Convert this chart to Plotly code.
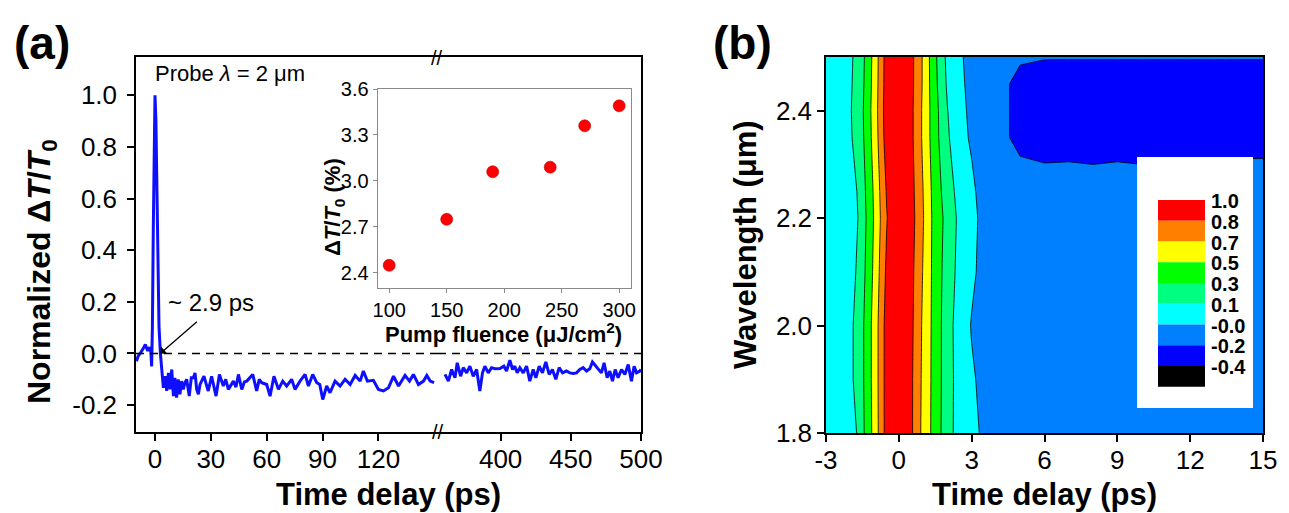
import plotly.graph_objects as go

W, H = 1289, 513
FONT = "Liberation Sans"

# ---------------- data: panel (a) main trace ----------------
t_early = [-10, -9, -8, -7, -6.1, -5.2, -3.9, -2.9, -2.2, -1.8, -1.4, -0.9, -0.4, 0, 0.5,
           1.25, 2.15, 2.9, 3.6, 4.5, 5.4, 6.3, 7.2, 8.1, 9.0, 9.9, 10.7, 11.6, 12.5,
           13.4, 14.3, 15.2, 16.1, 17.0, 18.4, 19.5, 20.6, 21.5, 22.4, 23.3, 24.2, 25.1,
           26.3, 27.8, 28.6, 30.4, 31.5, 32.8, 34.6, 36.7, 38.0, 39.4, 42.1, 43.5, 44.8,
           46.6, 48.0, 49.3, 52.5, 54.6, 56.0, 57.3, 60.0, 61.8, 63.9, 66.3, 68.6, 70.7,
           73.4, 75.2, 77.9, 80.6, 82.4, 84.7, 86.9, 88.5, 90.1, 92.2, 94.0, 96.7, 99.4,
           102.1, 104.8, 107.5, 110.2, 111.9, 114.1, 117.3, 120.0, 122.7, 125.4, 128.1,
           130.8, 134.3, 136.7, 138.8, 141.5, 144.2, 146.0, 147.8, 149.9]
v_early = [-0.03, -0.01, 0.0, 0.01, 0.022, 0.035, 0.01, 0.025, 0.005, -0.05, 0.10, 0.49,
           0.95, 1.0, 0.90, 0.49, 0.105, 0.0, -0.062, -0.133, -0.088, -0.145, -0.075,
           -0.139, -0.062, -0.165, -0.094, -0.171, -0.100, -0.158, -0.107, -0.139, -0.113,
           -0.100, -0.165, -0.094, -0.094, -0.075, -0.139, -0.158, -0.120, -0.107, -0.088,
           -0.126, -0.145, -0.088, -0.120, -0.165, -0.081, -0.126, -0.100, -0.139, -0.107,
           -0.130, -0.081, -0.139, -0.110, -0.107, -0.081, -0.145, -0.100, -0.113, -0.120,
           -0.165, -0.088, -0.139, -0.107, -0.126, -0.100, -0.139, -0.107, -0.081, -0.126,
           -0.081, -0.113, -0.120, -0.178, -0.126, -0.152, -0.107, -0.126, -0.100, -0.120,
           -0.085, -0.107, -0.068, -0.107, -0.104, -0.139, -0.145, -0.133, -0.088, -0.126,
           -0.085, -0.107, -0.081, -0.120, -0.107, -0.085, -0.107, -0.113]

t_late = [360.4, 362.8, 365.1, 367.5, 369.1, 371.5, 373.4, 375.8, 378.1, 380.5, 382.9,
          385.2, 387.1, 388.8, 391.2, 393.5, 395.9, 399.5, 402.3, 404.2, 406.6, 408.5,
          410.1, 411.8, 413.7, 416.1, 418.5, 420.8, 423.2, 425.1, 427.5, 429.8, 432.2,
          434.6, 436.9, 439.3, 441.7, 444.1, 446.9, 449.3, 451.7, 454.1, 456.4, 458.8,
          461.2, 463.5, 465.4, 467.8, 470.2, 471.8, 473.7, 475.9, 477.8, 479.7, 481.6,
          483.7, 486.1, 488.5, 490.9, 493.2, 495.1, 496.8, 499.2, 500.0]
v_late = [-0.081, -0.107, -0.062, -0.094, -0.036, -0.088, -0.055, -0.075, -0.049, -0.088,
          -0.062, -0.145, -0.075, -0.049, -0.075, -0.055, -0.059, -0.058, -0.049, -0.068,
          -0.026, -0.062, -0.049, -0.075, -0.055, -0.075, -0.049, -0.107, -0.062, -0.094,
          -0.049, -0.075, -0.033, -0.081, -0.062, -0.100, -0.055, -0.075, -0.068, -0.075,
          -0.077, -0.075, -0.062, -0.055, -0.068, -0.059, -0.033, -0.049, -0.062, -0.075,
          -0.036, -0.094, -0.068, -0.107, -0.062, -0.094, -0.062, -0.081, -0.043, -0.107,
          -0.049, -0.075, -0.068, -0.062]

# ---------------- data: inset ----------------
fluence = [100, 150, 190, 240, 270, 300]
dtt_pct = [2.45, 2.75, 3.06, 3.09, 3.36, 3.49]

# ---------------- data: panel (b) contour ----------------
delay_b = [-3, -2.5, -2, -1.5, -1, -0.5, 0, 0.5, 1, 1.5, 2, 2.5, 3, 3.5, 4, 4.5, 5,
           6, 7, 8, 9, 10, 11, 12, 13, 14, 15]
wavelength_b = [1.8, 1.9, 2.0, 2.1, 2.2, 2.25, 2.35, 2.4, 2.45, 2.5]
row_180 = [0.01, 0.00, -0.02, 0.26, 0.54, 0.90, 1.00, 0.86, 0.60, 0.40, 0.19, 0.055, 0.00,
           -0.08, -0.11, -0.12, -0.12, -0.12, -0.12, -0.12, -0.12, -0.12, -0.12, -0.12,
           -0.12, -0.12, -0.12]
row_190 = [0.01, 0.02, 0.08, 0.27, 0.55, 0.90, 1.00, 0.86, 0.61, 0.40, 0.20, 0.05, -0.03,
           -0.09, -0.11, -0.12, -0.12, -0.12, -0.12, -0.12, -0.12, -0.12, -0.12, -0.12,
           -0.12, -0.12, -0.12]
row_200 = [0.01, 0.02, 0.08, 0.27, 0.55, 0.90, 1.00, 0.87, 0.62, 0.40, 0.20, 0.04, -0.06,
           -0.10, -0.11, -0.12, -0.12, -0.12, -0.12, -0.12, -0.12, -0.12, -0.12, -0.12,
           -0.12, -0.12, -0.12]
row_210 = [0.01, 0.01, 0.03, 0.24, 0.52, 0.86, 1.00, 0.88, 0.64, 0.40, 0.22, 0.07, -0.02,
           -0.10, -0.12, -0.12, -0.12, -0.13, -0.13, -0.13, -0.13, -0.13, -0.13, -0.13,
           -0.13, -0.13, -0.13]
row_220 = [0.00, -0.01, -0.03, 0.215, 0.50, 0.816, 1.00, 0.90, 0.66, 0.40, 0.244, 0.083,
           0.00, -0.10, -0.12, -0.13, -0.13, -0.13, -0.13, -0.13, -0.13, -0.13, -0.13,
           -0.13, -0.13, -0.13, -0.13]
row_225 = [0.00, 0.00, 0.00, 0.23, 0.51, 0.84, 1.00, 0.89, 0.65, 0.39, 0.21, 0.06, -0.02,
           -0.11, -0.13, -0.14, -0.16, -0.175, -0.17, -0.18, -0.17, -0.18, -0.185, -0.17,
           -0.16, -0.155, -0.155]
row_235 = [0.01, 0.02, 0.10, 0.27, 0.55, 0.91, 1.00, 0.87, 0.62, 0.36, 0.15, 0.00, -0.07,
           -0.12, -0.15, -0.22, -0.26, -0.27, -0.27, -0.27, -0.27, -0.27, -0.27, -0.27,
           -0.27, -0.27, -0.27]
row_240 = [0.01, 0.03, 0.11, 0.28, 0.56, 0.92, 1.00, 0.87, 0.62, 0.36, 0.13, -0.01, -0.08,
           -0.12, -0.15, -0.22, -0.26, -0.27, -0.27, -0.27, -0.27, -0.27, -0.27, -0.27,
           -0.27, -0.27, -0.27]
row_245 = [0.01, 0.02, 0.10, 0.265, 0.55, 0.91, 1.00, 0.88, 0.63, 0.34, 0.10, -0.02, -0.09,
           -0.12, -0.15, -0.22, -0.26, -0.27, -0.27, -0.27, -0.27, -0.27, -0.27, -0.27,
           -0.27, -0.27, -0.27]
row_250 = [0.01, 0.02, 0.09, 0.254, 0.54, 0.907, 1.00, 0.88, 0.63, 0.33, 0.08, -0.028,
           -0.10, -0.12, -0.14, -0.18, -0.21, -0.22, -0.22, -0.22, -0.22, -0.22, -0.22,
           -0.22, -0.22, -0.22, -0.22]
signal_b = [row_180, row_190, row_200, row_210, row_220, row_225, row_235, row_240,
            row_245, row_250]

level_start, level_end, level_step = -0.4, 1.0, 0.175
# fill colours from lowest band (< -0.4) to highest band (> 1.0)
band_colors = ["#000000", "#0000FF", "#0080FF", "#00FFFF", "#00FF80", "#00FF00",
               "#FFFF00", "#FF8000", "#FF0000", "#FF0000"]
legend_labels = ["1.0", "0.8", "0.7", "0.5", "0.3", "0.1", "-0.0", "-0.2", "-0.4"]

# ---------------- helpers ----------------
def fx(p):
    return p / W


def fy(p):
    return 1 - p / H


n = len(band_colors)
colorscale = []
for i, c in enumerate(band_colors):
    colorscale.append([i / n, c])
    colorscale.append([(i + 1) / n, c])

BLUE = "rgb(15,15,255)"

fig = go.Figure()
fig.add_trace(go.Scatter(x=t_early, y=v_early, xaxis="x", yaxis="y", mode="lines",
                         line=dict(color=BLUE, width=3), showlegend=False,
                         hoverinfo="skip"))
fig.add_trace(go.Scatter(x=t_late, y=v_late, xaxis="x3", yaxis="y3", mode="lines",
                         line=dict(color=BLUE, width=3), showlegend=False,
                         hoverinfo="skip"))
fig.add_trace(go.Scatter(x=fluence, y=dtt_pct, xaxis="x4", yaxis="y4", mode="markers",
                         marker=dict(color="#ff0000", size=12,
                                     line=dict(color="#c00000", width=0.6)),
                         showlegend=False, hoverinfo="skip"))
fig.add_trace(go.Contour(x=delay_b, y=wavelength_b, z=signal_b, xaxis="x2", yaxis="y2",
                         contours=dict(start=level_start, end=level_end, size=level_step,
                                       coloring="fill"),
                         line=dict(color="black", width=0.8, smoothing=0),
                         colorscale=colorscale, showscale=False, hoverinfo="skip"))

tickfont = dict(family=FONT, size=26, color="black")
common = dict(showline=True, linecolor="black", linewidth=1.5, ticks="outside",
              ticklen=7, tickwidth=1.5, tickcolor="black", showgrid=False,
              zeroline=False, tickfont=tickfont)

ya_dom = [fy(432), fy(57)]
yb_dom = [fy(433), fy(57)]

layout = dict(
    width=W, height=H, margin=dict(l=0, r=0, t=0, b=0, pad=0, autoexpand=False),
    paper_bgcolor="white", plot_bgcolor="white", showlegend=False,
    xaxis=dict(domain=[fx(136), fx(438)], range=[-10.2, 152], anchor="y", mirror=True,
               tickvals=[0, 30, 60, 90, 120], ticklabelstandoff=-4, **common),
    yaxis=dict(domain=ya_dom, range=[-0.304, 1.148], anchor="x",
               tickvals=[-0.2, 0, 0.2, 0.4, 0.6, 0.8, 1.0],
               ticktext=["-0.2", "0.0", "0.2", "0.4", "0.6", "0.8", "1.0"],
               ticklabelstandoff=5, **common),
    xaxis3=dict(domain=[fx(438), fx(641)], range=[355.4, 500], anchor="y3", mirror=True,
                tickvals=[400, 450, 500], ticklabelstandoff=-4, **common),
    yaxis3=dict(domain=ya_dom, range=[-0.304, 1.148], anchor="x3", side="right",
                showline=True, linecolor="black", linewidth=1.5, ticks="",
                showticklabels=False, showgrid=False, zeroline=False),
    xaxis4=dict(domain=[fx(377.7), fx(630.7)], range=[90, 310], anchor="y4",
                tickvals=[100, 150, 200, 250, 300], showline=True, mirror=True,
                linecolor="#8a8a8a", linewidth=1.2, ticks="outside", ticklen=4,
                tickcolor="#8a8a8a", showgrid=False, zeroline=False,
                tickfont=dict(family=FONT, size=20, color="black")),
    yaxis4=dict(domain=[fy(288.3), fy(89)], range=[2.3, 3.6], anchor="x4",
                tickvals=[2.4, 2.7, 3.0, 3.3, 3.6],
                ticktext=["2.4", "2.7", "3.0", "3.3", "3.6"], showline=True, mirror=True,
                linecolor="#8a8a8a", linewidth=1.2, ticks="outside", ticklen=4,
                tickcolor="#8a8a8a", showgrid=False, zeroline=False,
                tickfont=dict(family=FONT, size=20, color="black")),
    xaxis2=dict(domain=[fx(826), fx(1263)], range=[-3, 15], anchor="y2", mirror=True,
                tickvals=[-3, 0, 3, 6, 9, 12, 15],
                ticktext=["-3", "0", "3", "6", "9", "12", "15"], ticklabelstandoff=-4,
                **common),
    yaxis2=dict(domain=yb_dom, range=[1.8, 2.5], anchor="x2", mirror=True,
                tickvals=[1.8, 2.0, 2.2, 2.4], ticktext=["1.8", "2.0", "2.2", "2.4"],
                **common),
)
fig.update_layout(**layout)

# dashed zero line across both segments
for xr, yr in (("x domain", "y"), ("x3 domain", "y3")):
    fig.add_shape(type="line", xref=xr, yref=yr, x0=0, x1=1, y0=0, y1=0,
                  line=dict(color="black", width=1.5, dash="8px,6px"))

ann = []


def text(s, x, y, size, bold=False, xanchor="center", yanchor="middle", angle=0):
    ann.append(dict(text=("<b>%s</b>" % s) if bold else s, x=fx(x), y=fy(y),
                    xref="paper", yref="paper", showarrow=False, xanchor=xanchor,
                    yanchor=yanchor, textangle=angle,
                    font=dict(family=FONT, size=size, color="black")))


text("(a)", 42, 43, 46, bold=True)
text("(b)", 743, 43, 46, bold=True)
text("Time delay (ps)", 388.5, 494, 31, bold=True)
text("Time delay (ps)", 1044.5, 494, 31, bold=True)
text("Normalized Δ<i>T</i>/<i>T</i><sub>0</sub>", 41, 272, 32, bold=True, angle=-90)
text("Wavelength (μm)", 745, 245, 31, bold=True, angle=-90)
text("Probe <i>λ</i> = 2 μm", 153, 73, 22, xanchor="left")
text("~ 2.9 ps", 166, 302, 24, xanchor="left")
text("Δ<i>T</i>/<i>T</i><sub>0</sub> (%)", 334, 207, 22, bold=True, angle=-90)
text("Pump fluence (μJ/cm<sup>2</sup>)", 504, 333, 22, bold=True)
text("//", 438, 432, 20)
text("//", 437, 58, 20)

# arrow pointing at the zero crossing
ann.append(dict(x=2.9, y=0, xref="x", yref="y", ax=38, ay=-33, showarrow=True,
                arrowhead=1, arrowsize=1.3, arrowwidth=1.3, arrowcolor="black", text=""))

# legend of panel (b)
fig.add_shape(type="rect", xref="paper", yref="paper", x0=fx(1137), x1=fx(1253),
              y0=fy(408), y1=fy(157), fillcolor="white", line=dict(width=0),
              layer="above")
sw_top, sw_h = 200, 20.75
legend_colors = band_colors[:9][::-1]
for i, (c, lab) in enumerate(zip(legend_colors, legend_labels)):
    fig.add_shape(type="rect", xref="paper", yref="paper", x0=fx(1158), x1=fx(1205),
                  y0=fy(sw_top + (i + 1) * sw_h), y1=fy(sw_top + i * sw_h),
                  fillcolor=c, line=dict(width=0), layer="above")
    text(lab, 1209, sw_top + i * sw_h + 1, 20, bold=True, xanchor="left")

fig.update_layout(annotations=ann)

fig.write_html("out.html",
               config={"displayModeBar": False},
               post_script="document.body.style.margin='0';"
                           "document.body.style.overflow='hidden';")
